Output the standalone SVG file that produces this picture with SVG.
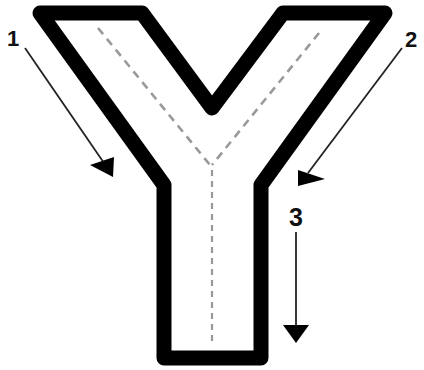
<svg xmlns="http://www.w3.org/2000/svg" width="424" height="370" viewBox="0 0 424 370">
<style>
.y{fill:none;stroke:#000;stroke-width:15;stroke-linejoin:round}
.d{fill:none;stroke:#999;stroke-width:2.6;stroke-dasharray:8 6}
.a{stroke:#222;stroke-width:1.8}
.h{fill:#000}
.t{font-family:"Liberation Sans",Arial,sans-serif;font-weight:bold;fill:#111;text-anchor:middle}
</style>
<g id="shape">
<path class="y" d="M40,13 L142,13 L212,108 L283,13 L385,13 L261,185 L261,358 L164,358 L164,185 Z"/>
</g>
<g id="centerline">
<path class="d" d="M98,28 L210,165"/>
<path class="d" d="M319,33 L212,165"/>
<path class="d" d="M212,170 L212,343" style="stroke-width:2.2;stroke-dasharray:6 5"/>
</g>
<g id="connectors">
<line class="a" x1="25" y1="48" x2="104" y2="163"/>
<polygon class="h" points="113,177 90,165 114,157"/>
<line class="a" x1="402" y1="48" x2="308" y2="173"/>
<polygon class="h" points="298,186 298,170 325,179"/>
<line class="a" x1="296" y1="232" x2="296" y2="326"/>
<polygon class="h" points="296,343 283,325 309,325"/>
</g>
<g id="labels">
<text class="t" x="13" y="46" font-size="22">1</text>
<text class="t" x="411" y="47" font-size="22">2</text>
<text class="t" x="296" y="226" font-size="25">3</text>
</g>
</svg>
